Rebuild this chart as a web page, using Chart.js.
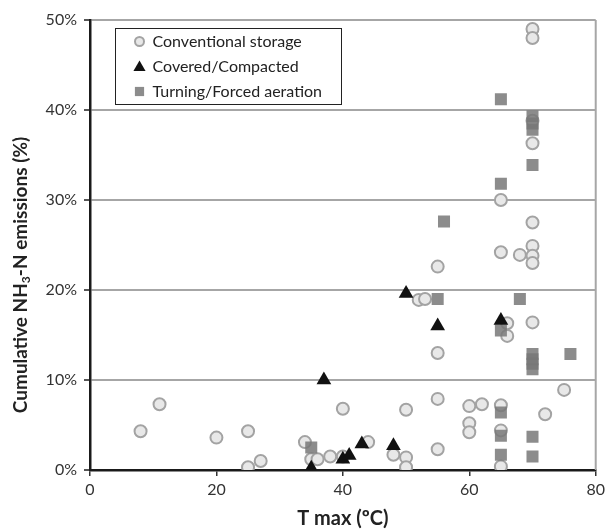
<!DOCTYPE html>
<html>
<head>
<meta charset="utf-8">
<script src="https://cdn.jsdelivr.net/npm/chart.js@4.4.0/dist/chart.umd.min.js"></script>
<style>
    html, body { margin: 0; padding: 0; background: #fff; }
</style>
</head>
<body>
<canvas id="chart" width="609" height="531"></canvas>
<script>
// =====================================
// Data
// =====================================

const seriesLabels = ["Conventional storage", "Covered/Compacted", "Turning/Forced aeration"];

const convX = [8, 11, 20, 25, 25, 27, 34, 35, 36, 38, 40, 40, 44, 48, 50, 50, 50, 52, 53, 55, 55, 55, 55,
    60, 60, 60, 62, 65, 65, 65, 65, 65, 66, 66, 68, 70, 70, 70, 70, 70, 70, 70, 70, 70, 72, 75];
const convY = [4.3, 7.3, 3.6, 4.3, 0.3, 1.0, 3.1, 1.2, 1.2, 1.5, 1.5, 6.8, 3.1, 1.7, 6.7, 1.4, 0.3, 18.9, 19.0, 22.6, 13.0, 7.9, 2.3,
    7.1, 5.2, 4.2, 7.3, 30.0, 24.2, 7.2, 4.4, 0.4, 16.3, 14.9, 23.9, 49.0, 48.0, 38.8, 36.3, 27.5, 24.9, 23.8, 23.0, 16.4, 6.2, 8.9];

const covX = [35, 37, 40, 41, 43, 48, 50, 55, 65];
const covY = [0.2, 10.0, 1.2, 1.6, 2.9, 2.7, 19.6, 16.0, 16.6];

const turnX = [35, 55, 56, 65, 65, 65, 65, 65, 65, 68, 70, 70, 70, 70, 70, 70, 70, 70, 70, 70, 76];
const turnY = [2.5, 19.0, 27.6, 41.2, 31.8, 15.5, 6.4, 3.8, 1.7, 19.0, 39.3, 38.5, 37.8, 33.9, 12.9, 12.3, 11.8, 11.2, 3.7, 1.5, 12.9];

const xTickValues = [0, 20, 40, 60, 80];
const yTickValues = [0, 10, 20, 30, 40, 50];
const yTickLabels = ["0%", "10%", "20%", "30%", "40%", "50%"];

function toPoints(xs, ys) {
    return xs.map((x, i) => ({ x: x, y: ys[i] }));
}

const FONT = "Lato, 'Open Sans', sans-serif";

// =====================================
// Extra drawing: frame, legend, titles
// =====================================

const extras = {
    id: "extras",
    beforeDatasetsDraw(chart) {
        const ctx = chart.ctx;
        const a = chart.chartArea;
        ctx.save();
        ctx.strokeStyle = "#a6a6a6";
        ctx.lineWidth = 2;
        ctx.beginPath();
        ctx.moveTo(a.right, a.top);
        ctx.lineTo(a.right, a.bottom);
        ctx.stroke();
        ctx.restore();
    },
    afterDatasetsDraw(chart) {
        const ctx = chart.ctx;
        const a = chart.chartArea;

        // legend box
        const bx = a.left + 25.5, by = a.top + 8.5, bw = 226, bh = 76;
        ctx.save();
        ctx.fillStyle = "#fff";
        ctx.fillRect(bx, by, bw, bh);
        ctx.strokeStyle = "#222";
        ctx.lineWidth = 1;
        ctx.strokeRect(bx, by, bw, bh);

        const legendRadius = [4.5, 7, 6.5];
        chart.data.datasets.forEach((ds, i) => {
            const y = by + 13 + i * 25;
            ctx.fillStyle = ds.backgroundColor;
            ctx.strokeStyle = ds.borderColor;
            ctx.lineWidth = ds.borderWidth;
            Chart.helpers.drawPoint(ctx, {
                pointStyle: ds.pointStyle,
                radius: legendRadius[i],
                borderWidth: ds.borderWidth
            }, bx + 24, y + (ds.pointStyle === "triangle" ? 1 : 0));
            ctx.fillStyle = "#222";
            ctx.font = "16px " + FONT;
            ctx.textBaseline = "middle";
            ctx.textAlign = "left";
            ctx.fillText(ds.label, bx + 37, y);
        });

        // x title
        ctx.fillStyle = "#222";
        ctx.font = "bold 20px " + FONT;
        ctx.textAlign = "center";
        ctx.textBaseline = "middle";
        ctx.fillText("T max (ºC)", (a.left + a.right) / 2, 519);

        // y title with subscript
        const parts = [
            { t: "Cumulative NH", f: "bold 19px " + FONT, dy: 0 },
            { t: "3", f: "bold 12px " + FONT, dy: 5 },
            { t: "-N emissions (%)", f: "bold 19px " + FONT, dy: 0 }
        ];
        let total = 0;
        parts.forEach(p => { ctx.font = p.f; p.w = ctx.measureText(p.t).width; total += p.w; });
        ctx.translate(21, 275);
        ctx.rotate(-Math.PI / 2);
        ctx.textAlign = "left";
        let cx = -total / 2;
        parts.forEach(p => {
            ctx.font = p.f;
            ctx.fillText(p.t, cx, p.dy);
            cx += p.w;
        });
        ctx.restore();
    }
};

// =====================================
// Chart
// =====================================

const chart = new Chart(document.getElementById("chart"), {
    type: "scatter",
    data: {
        datasets: [{
            label: seriesLabels[0],
            data: toPoints(convX, convY),
            pointStyle: "circle",
            pointRadius: 6,
            backgroundColor: "#e8e8e8",
            borderColor: "#a3a3a3",
            borderWidth: 2,
            order: 3
        }, {
            label: seriesLabels[1],
            data: toPoints(covX, covY),
            pointStyle: "triangle",
            pointRadius: 8.5,
            backgroundColor: "#111111",
            borderColor: "#111111",
            borderWidth: 0,
            order: 1
        }, {
            label: seriesLabels[2],
            data: toPoints(turnX, turnY),
            pointStyle: "rect",
            pointRadius: 8.5,
            backgroundColor: "rgba(120,120,120,0.85)",
            borderColor: "rgba(120,120,120,0.85)",
            borderWidth: 0,
            order: 2
        }]
    },
    options: {
        responsive: false,
        animation: false,
        layout: {
            padding: { top: 20, right: 11, left: 0, bottom: 0 }
        },
        plugins: {
            legend: { display: false },
            tooltip: { enabled: false }
        },
        scales: {
            x: {
                type: "linear",
                min: 0,
                max: 80,
                afterBuildTicks: s => { s.ticks = xTickValues.map(v => ({ value: v })); },
                afterFit: s => { s.height = 61; },
                ticks: {
                    color: "#333",
                    font: { family: FONT, size: 16 },
                    padding: 4
                },
                grid: {
                    drawOnChartArea: false,
                    tickLength: 6,
                    tickColor: "#333",
                    lineWidth: 1.5
                },
                border: { color: "#1a1a1a", width: 2.5 }
            },
            y: {
                min: 0,
                max: 50,
                afterBuildTicks: s => { s.ticks = yTickValues.map(v => ({ value: v })); },
                afterFit: s => { s.width = 90; },
                ticks: {
                    color: "#333",
                    font: { family: FONT, size: 16 },
                    padding: 7,
                    callback: v => yTickLabels[yTickValues.indexOf(v)]
                },
                grid: {
                    color: c => (c.tick && c.tick.value === 0) ? "rgba(0,0,0,0)" : "#a6a6a6",
                    lineWidth: 2,
                    tickLength: 6,
                    tickColor: "#555"
                },
                border: { color: "#1a1a1a", width: 2.5 }
            }
        }
    },
    plugins: [extras]
});
</script>
</body>
</html>
